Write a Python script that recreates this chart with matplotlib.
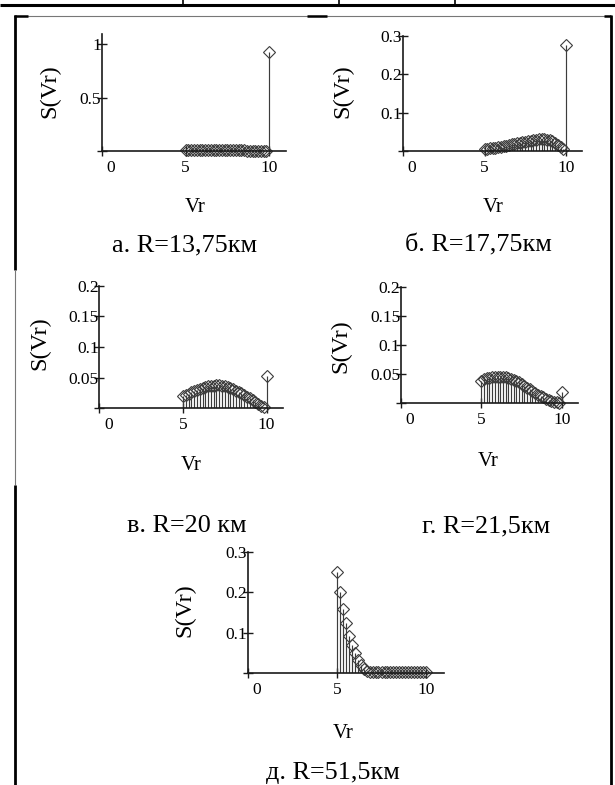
import matplotlib
matplotlib.use("Agg")
import matplotlib.pyplot as plt
from matplotlib.lines import Line2D
from matplotlib.transforms import ScaledTranslation

plt.rcParams['font.family'] = ['Liberation Serif', 'DejaVu Serif']

W, H = 615, 785
DPI = 100

# ---------------- data ----------------
vr = [5.0, 5.17, 5.33, 5.5, 5.67, 5.83, 6.0, 6.17, 6.33, 6.5, 6.67, 6.83,
      7.0, 7.17, 7.33, 7.5, 7.67, 7.83, 8.0, 8.17, 8.33, 8.5, 8.67, 8.83,
      9.0, 9.17, 9.33, 9.5, 9.67, 9.83, 10.0]

s_a = [0.006, 0.006, 0.006, 0.006, 0.006, 0.006, 0.006, 0.006, 0.006, 0.006,
       0.006, 0.006, 0.006, 0.006, 0.005, 0.005, 0.005, 0.005, 0.005, 0.005,
       0.005, 0.005, 0.004, 0.004, 0.004, 0.004, 0.004, 0.003, 0.003, 0.003,
       0.93]
s_b = [0.005, 0.006, 0.007, 0.008, 0.009, 0.010, 0.011, 0.012, 0.014, 0.015,
       0.017, 0.018, 0.020, 0.021, 0.023, 0.024, 0.026, 0.027, 0.029, 0.030,
       0.031, 0.031, 0.031, 0.030, 0.028, 0.025, 0.021, 0.016, 0.010, 0.004,
       0.276]
s_v = [0.020, 0.022, 0.024, 0.026, 0.028, 0.030, 0.032, 0.033, 0.035, 0.036,
       0.037, 0.037, 0.038, 0.038, 0.037, 0.036, 0.035, 0.033, 0.031, 0.029,
       0.027, 0.025, 0.022, 0.019, 0.016, 0.013, 0.010, 0.007, 0.004, 0.002,
       0.053]
s_g = [0.038, 0.041, 0.043, 0.044, 0.045, 0.046, 0.046, 0.046, 0.046, 0.045,
       0.044, 0.042, 0.040, 0.038, 0.036, 0.033, 0.030, 0.027, 0.024, 0.021,
       0.018, 0.015, 0.012, 0.010, 0.008, 0.006, 0.004, 0.003, 0.002, 0.001,
       0.019]
s_d = [0.25, 0.20, 0.16, 0.125, 0.093, 0.070, 0.050, 0.033, 0.020, 0.010,
       0.005, 0.004, 0.004, 0.004, 0.004, 0.004, 0.004, 0.004, 0.004, 0.004,
       0.004, 0.004, 0.004, 0.004, 0.004, 0.003, 0.003, 0.003, 0.003, 0.003,
       0.003]

xticks = [0, 5, 10]
xticklabels = ['0', '5', '10']
yt_a = [0.5, 1.0];            ytl_a = ['0.5', '1']
yt_b = [0.1, 0.2, 0.3];       ytl_b = ['0.1', '0.2', '0.3']
yt_v = [0.05, 0.1, 0.15, 0.2]; ytl_v = ['0.05', '0.1', '0.15', '0.2']
yt_g = [0.05, 0.1, 0.15, 0.2]; ytl_g = ['0.05', '0.1', '0.15', '0.2']
yt_d = [0.1, 0.2, 0.3];       ytl_d = ['0.1', '0.2', '0.3']

captions = ['а. R=13,75км', 'б. R=17,75км', 'в. R=20 км', 'г. R=21,5км', 'д. R=51,5км']

# ---------------- layout (pixels) ----------------
panels = [
    dict(box=(102, 286, 33.6, 151), ymax=1.1, s=s_a, yt=yt_a, ytl=ytl_a,
         ylab=(50, 91), xlab=(195, 208), cap=(185, 245)),
    dict(box=(403, 582.3, 36, 151), ymax=0.3, s=s_b, yt=yt_b, ytl=ytl_b,
         ylab=(343, 91), xlab=(493, 208), cap=(478, 245)),
    dict(box=(99.5, 283.2, 285.7, 408.3), ymax=0.2, s=s_v, yt=yt_v, ytl=ytl_v,
         ylab=(40, 343), xlab=(191, 466), cap=(187, 526)),
    dict(box=(401, 578, 287, 403.3), ymax=0.2, s=s_g, yt=yt_g, ytl=ytl_g,
         ylab=(341, 346), xlab=(488, 461), cap=(486, 526)),
    dict(box=(248, 443.8, 551.8, 673.3), ymax=0.3, s=s_d, yt=yt_d, ytl=ytl_d,
         ylab=(185, 610), xlab=(343, 733), cap=(333, 773)),
]

fig = plt.figure(figsize=(W / DPI, H / DPI), dpi=DPI)
fig.patch.set_facecolor('white')

axis_col = '#1a1a1a'
mark_col = '#3c3c3c'
txt_col = '#000000'

for i, p in enumerate(panels):
    l, r, t, b = p['box']
    ax = fig.add_axes([l / W, 1 - b / H, (r - l) / W, (b - t) / H])
    ax.set_facecolor('none')
    ax.vlines(vr, 0, p['s'], colors=mark_col, linewidth=0.85)
    ax.plot(vr, p['s'], linestyle='none', marker='D', markersize=6.0,
            markerfacecolor='none', markeredgecolor=mark_col,
            markeredgewidth=0.8, clip_on=False)
    ax.set_xlim(0, 11)
    ax.set_ylim(0, p['ymax'])
    for side in ('top', 'right'):
        ax.spines[side].set_visible(False)
    for side in ('left', 'bottom'):
        ax.spines[side].set_color(axis_col)
        ax.spines[side].set_linewidth(1.2)
    ax.set_xticks(xticks, xticklabels)
    ax.set_yticks([0] + p['yt'], [''] + p['ytl'])
    ax.tick_params(axis='both', direction='inout', length=7, width=1.0,
                   color=axis_col, labelsize=12.5, labelcolor=txt_col)
    ax.tick_params(axis='y', pad=-3)
    ax.tick_params(axis='x', pad=3)
    lab0 = ax.xaxis.get_major_ticks()[0].label1
    lab0.set_transform(lab0.get_transform() +
                       ScaledTranslation(9 / DPI, 0, fig.dpi_scale_trans))

    fig.text(p['ylab'][0] / W, 1 - p['ylab'][1] / H, 'S(Vr)', rotation=90,
             ha='center', va='center', fontsize=17.5, color=txt_col)
    fig.text(p['xlab'][0] / W, 1 - p['xlab'][1] / H, 'Vr',
             ha='center', va='center', fontsize=15, color=txt_col)
    fig.text(p['cap'][0] / W, 1 - p['cap'][1] / H, captions[i],
             ha='center', va='center', fontsize=18.8, color=txt_col)

# ---------------- document table borders ----------------
def seg(x0, y0, x1, y1, lw, col='black'):
    fig.add_artist(Line2D([x0 / W, x1 / W], [1 - y0 / H, 1 - y1 / H],
                          transform=fig.transFigure, color=col,
                          linewidth=lw, solid_capstyle='butt'))

seg(0, 5, 615, 5, 2.2)
for xx in (183, 339, 455):
    seg(xx, 0, xx, 5, 1.2)
seg(14, 16, 611, 16, 0.8, '#777777')
seg(14, 16, 28, 16, 1.8)
seg(307, 16, 327, 16, 1.8)
seg(604, 16, 611, 16, 1.8)
seg(15, 15, 15, 270, 2.0)
seg(15, 270, 15, 485, 0.8, '#777777')
seg(15, 485, 15, 785, 2.0)
seg(611, 15, 611, 785, 2.0)

fig.savefig('out.png', dpi=DPI, facecolor='white')
